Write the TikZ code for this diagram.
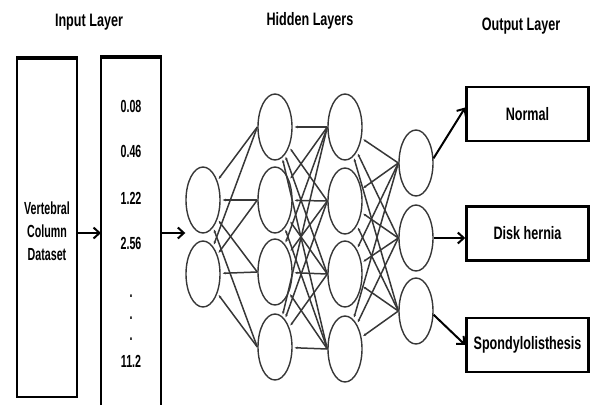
\documentclass[tikz,border=0pt]{standalone}
\usepackage{fontspec}
\usetikzlibrary{arrows.meta}
\usetikzlibrary{shapes.geometric}
\newfontfamily\titlefont[FakeStretch=0.7]{Liberation Sans Bold}
\newfontfamily\narrowfont[FakeStretch=0.61]{Liberation Sans Bold}
\definecolor{netgray}{RGB}{55, 55, 55}

\begin{document}
\begin{tikzpicture}[
	x=1pt, y=-1pt,
	font=\titlefont\fontsize{18}{20}\selectfont,
	neuron/.style={ellipse, draw=netgray, line width=1.4pt, minimum width=34pt, minimum height=66pt, inner sep=0pt},
	weight/.style={draw=netgray, line width=1.5pt, shorten >=2pt, -{Stealth[length=3pt, width=2.5pt]}},
	flow/.style={line width=2pt, -{Straight Barb[length=6pt, width=11pt, line width=2pt]}},
	classbox/.style={draw, line width=2.5pt, minimum width=122pt, minimum height=54pt}
	]
	\useasboundingbox (0,0) rectangle (591,405);

	% titles
	\node (tin) at (89,22) {Input Layer};
	\node (thid) at (310,21) {Hidden Layers};
	\node (tout) at (521,26) {Output Layer};

	% input boxes
	\draw[line width=1.8pt] (17,58) rectangle (77,397);
	\draw[line width=3.5pt] (16,58) -- (78,58);
	\node[align=center, font=\narrowfont\fontsize{17.5}{23}\selectfont] (data) at (47,231)
		{Vertebral\\Column\\Dataset};
	\draw[line width=1.8pt] (101,405) -- (101,57) -- (161,57) -- (161,405);
	\draw[line width=3.5pt] (100,57) -- (162,57);
	\coordinate (vin) at (101,233);
	\coordinate (vout) at (161,233);
	\foreach \val/\y [count=\i] in {0.08/106, 0.46/151, 1.22/198, 2.56/243, ./296, ./318, ./339, 11.2/361}
		\node[font=\narrowfont\fontsize{17.5}{20}\selectfont] (v\i) at (131,\y) {\val};

	% neurons
	\foreach \y [count=\i] in {200, 274}
		\node[neuron] (a\i) at (203,\y) {};
	\foreach \y [count=\i] in {127, 200, 272, 347}
		\node[neuron] (b\i) at (275,\y) {};
	\foreach \y [count=\i] in {127, 201, 274, 349}
		\node[neuron] (c\i) at (345,\y) {};
	\foreach \y [count=\i] in {163, 238, 311}
		\node[neuron] (d\i) at (416,\y) {};

	% weights
	\foreach \j in {1,...,4}
		\foreach \i in {1,2}
			\draw[weight] (b\j.west) -- (a\i);
	\foreach \j in {1,...,4}
		\foreach \i in {1,...,4}
			\draw[weight] (c\j.west) -- (b\i);
	\foreach \j in {1,...,3}
		\foreach \i in {1,...,4}
			\draw[weight] (d\j.west) -- (c\i);

	% classes
	\node[classbox] (normal) at (527.5,114) {Normal};
	\node[classbox] (disk) at (527.5,233.5) {Disk hernia};
	\node[classbox] (spondy) at (527.5,345) {Spondylolisthesis};

	% flow arrows
	\draw[flow] (77,233) -- (vin);
	\draw[flow] (vout) -- (a1.west |- vout);
	\draw[flow] (d1.15) -- (normal.174);
	\draw[flow] (d2.east) -- (disk.west |- d2.east);
	\draw[flow] (d3.-12) -- (spondy.west);
\end{tikzpicture}
\end{document}
